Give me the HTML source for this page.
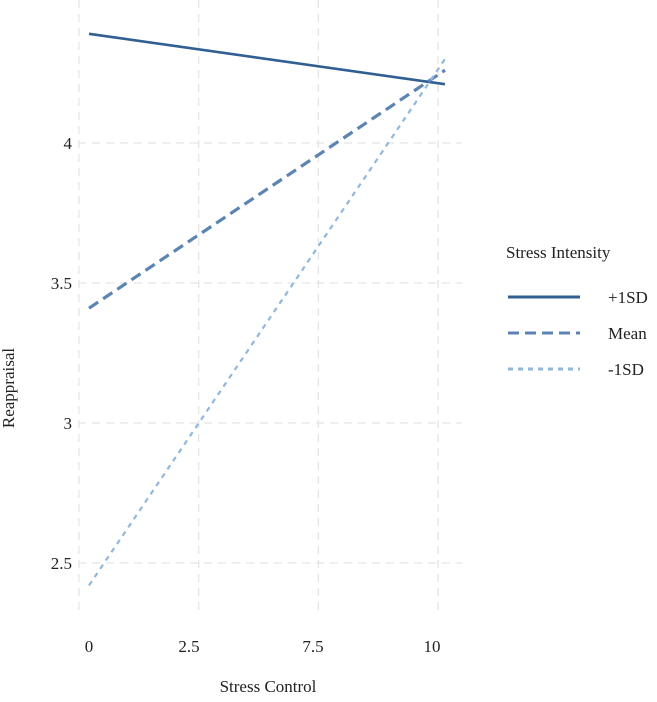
<!DOCTYPE html>
<html><head><meta charset="utf-8"><style>
body{margin:0;background:#fff}
svg text{font-family:"Liberation Serif",serif;fill:#222}
</style></head><body>
<svg width="657" height="697">
<g id="grid"></g>
<g id="lines"></g>
<g id="axes"></g>
<text x="14" y="388" font-size="17" text-anchor="middle" transform="rotate(-90 14 388)">Reappraisal</text>
<text x="268" y="692" font-size="17" text-anchor="middle">Stress Control</text>
<g>
<text x="506" y="258" font-size="17">Stress Intensity</text>
<g id="legend"></g>
</g>
</svg>
<script>
const seriesNames=["+1SD","Mean","-1SD"];
const xStart=[0,0,0];
const xEnd=[10.2,10.2,10.2];
const yStart=[4.39,3.41,2.42];
const yEnd=[4.21,4.26,4.30];
const yTicks=[2.5,3,3.5,4];
const yTickLabels=["2.5","3","3.5","4"];
const xTickLabels=["0","2.5","7.5","10"];
const colors=["#2f5f93","#5a84b5","#8fb7df"];
const dashes=["","11,6","5,5"];
const widths=[2.6,3.2,2.2];
const ns="http://www.w3.org/2000/svg";
const xs=v=>89+v*34.9;
const ys=v=>143+(4-v)*280;
function mk(t,a,p){const e=document.createElementNS(ns,t);for(const k in a)e.setAttribute(k,a[k]);p.appendChild(e);return e;}
const grid=document.getElementById('grid'),axes=document.getElementById('axes');
yTicks.forEach((v,i)=>{
 const l=mk('line',{x1:78,x2:462,y1:ys(v),y2:ys(v),stroke:'#e4e4e4','stroke-width':1.3,'stroke-dasharray':'8,6'},grid);
 
 
 const t=mk('text',{x:72,y:ys(v)+6,'font-size':17,'text-anchor':'end'},axes);
 t.textContent=yTickLabels[i];
 
 
});
const labelX=[89,189,313,432];
xTickLabels.forEach((s,i)=>{
 const gx=79+i*119.7;
 const l=mk('line',{x1:gx,x2:gx,y1:0,y2:612,stroke:'#e4e4e4','stroke-width':1.3,'stroke-dasharray':'8,6'},grid);
 
 
 const t=mk('text',{x:labelX[i],y:652,'font-size':17,'text-anchor':'middle'},axes);
 t.textContent=s;
 
 
});
const lines=document.getElementById('lines'),leg=document.getElementById('legend');
seriesNames.forEach((n,i)=>{
 const l=mk('line',{x1:xs(xStart[i]),y1:ys(yStart[i]),x2:xs(xEnd[i]),y2:ys(yEnd[i]),stroke:colors[i],'stroke-width':widths[i],'stroke-dasharray':dashes[i]},lines);
 
 
 const y=297+i*36;
 const k=mk('line',{x1:508,x2:580,y1:y,y2:y,stroke:colors[i],'stroke-width':3,'stroke-dasharray':dashes[i]},leg);
 
 
 const t=mk('text',{x:608,y:y+6,'font-size':17},leg);
 t.textContent=n;
 
 
});
</script>
</body></html>
